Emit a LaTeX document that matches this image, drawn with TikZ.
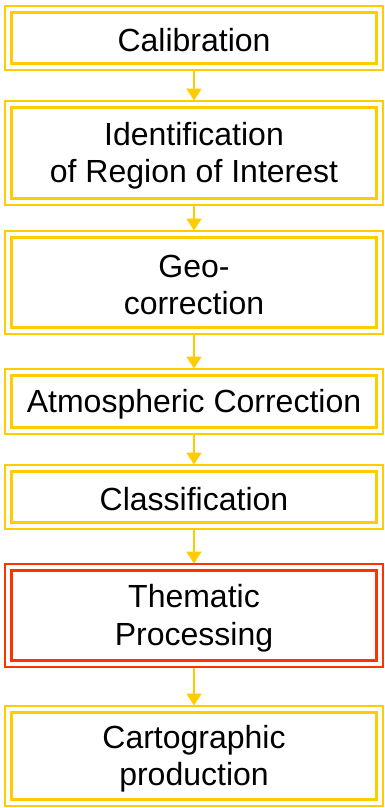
\documentclass[tikz,border=0pt]{standalone}
\usepackage{fontspec}
\setmainfont{Liberation Sans}
\usetikzlibrary{arrows.meta}
\definecolor{gold}{HTML}{FFCC00}
\definecolor{redline}{HTML}{FF3300}
\tikzset{
  stepbox/.style={draw=#1, line width=3pt, rectangle, outer sep=0pt, inner sep=0pt,
    minimum width=365pt},
  steptext/.style={align=center, inner sep=0pt, font=\fontsize{32}{37.5}\selectfont, text=black},
  outerframe/.style={draw=#1, line width=2pt},
  flow/.style={draw=gold, line width=2pt, -{Triangle[width=15pt,length=12pt]}}
}
\newcommand{\flowbox}[5]{%
  % #1 name, #2 top, #3 bottom, #4 color, #5 text
  \node[stepbox=#4, minimum height={#3-#2-15pt}] (#1) at (194,{(#2+#3)/2}) {};
  \node[steptext] (#1t) at ([yshift=-2.5pt]#1.center) {#5};
  \draw[outerframe=#4] ([shift={(-6.5pt,6.5pt)}]#1.north west) rectangle ([shift={(6.5pt,-6.5pt)}]#1.south east);
}
\begin{document}
\begin{tikzpicture}[x=1pt,y=-1pt]
\useasboundingbox (0,0) rectangle (385,808);
\flowbox{b1}{5}{71}{gold}{Calibration}
\flowbox{b2}{100}{206}{gold}{Identification\\of Region of Interest}
\flowbox{b3}{230}{335}{gold}{Geo-\\correction}
\flowbox{b4}{368}{435}{gold}{Atmospheric Correction}
\flowbox{b5}{464}{530}{gold}{Classification}
\flowbox{b6}{563}{668}{redline}{Thematic\\Processing}
\flowbox{b7}{705}{807}{gold}{Cartographic\\production}
\foreach \a/\b in {b1/b2,b2/b3,b3/b4,b4/b5,b5/b6,b6/b7}{
  \draw[flow] ([yshift=-7.5pt]\a.south) -- ([yshift=7pt]\b.north);
}
\end{tikzpicture}
\end{document}
